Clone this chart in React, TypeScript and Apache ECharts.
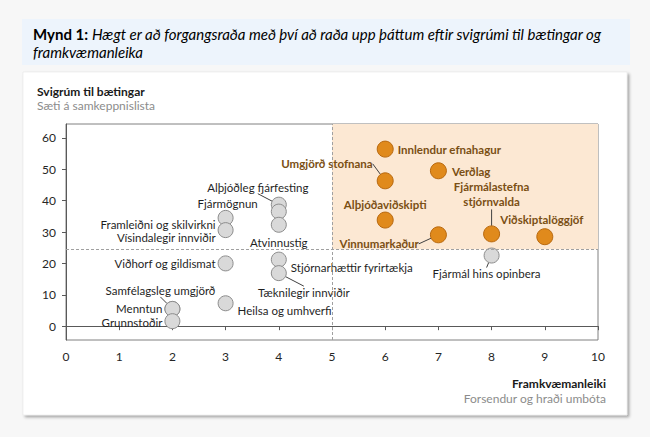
import { useEffect, useRef } from "react";
import * as echarts from "echarts";

// ---- data ----
const xTickMin = 0;
const xTickMax = 10;
const yTickValues = [0, 10, 20, 30, 40, 50, 60];
const Y_MIN = -4.4;
const Y_MAX = 64.4;
const X_SPLIT = 5;
const Y_SPLIT = 24.5;

const priorityNames = [
  "Innlendur efnahagur",
  "Umgjörð stofnana",
  "Verðlag",
  "Alþjóðaviðskipti",
  "Vinnumarkaður",
  "Fjármálastefna\nstjórnvalda",
  "Viðskiptalöggjöf",
];
const priorityX = [6, 6, 7, 6, 7, 8, 9];
const priorityY = [56.4, 46.3, 49.5, 33.8, 29.1, 29.4, 28.5];

const otherNames = [
  "Alþjóðleg fjárfesting",
  "Fjármögnun",
  "Atvinnustig",
  "Framleiðni og skilvirkni",
  "Vísindalegir innviðir",
  "Viðhorf og gildismat",
  "Stjórnarhættir fyrirtækja",
  "Tæknilegir innviðir",
  "Heilsa og umhverfi",
  "Samfélagsleg umgjörð",
  "Menntun",
  "Grunnstoðir",
  "Fjármál hins opinbera",
];
const otherX = [4, 4, 4, 3, 3, 3, 4, 4, 3, 2, 2, 2, 8];
const otherY = [38.7, 36.5, 32.3, 34.5, 30.6, 20, 21.2, 16.9, 7.3, 5.5, 5.5, 1.6, 22.5];

// ---- label placement (style) ----
type Place = { pos: string; dist: number; dx?: number; dy?: number; line?: boolean };
const priorityPlace: Place[] = [
  { pos: "right", dist: 4 },
  { pos: "left", dist: 4, dy: -17, line: true },
  { pos: "right", dist: 5, dy: 1 },
  { pos: "top", dist: 0 },
  { pos: "left", dist: 11, dy: 9, line: true },
  { pos: "top", dist: 4, dy: -12, line: true },
  { pos: "top", dist: 1, dx: -3 },
];
const otherPlace: Place[] = [
  { pos: "top", dist: 3, dx: -21, line: true },
  { pos: "left", dist: 13, dy: -8 },
  { pos: "bottom", dist: 4 },
  { pos: "left", dist: 2, dy: 7 },
  { pos: "left", dist: 2, dy: 7 },
  { pos: "left", dist: 2 },
  { pos: "right", dist: 4, dy: 8 },
  { pos: "bottom", dist: 5, dx: 25, line: true },
  { pos: "right", dist: 4, dy: 7 },
  { pos: "top", dist: 4, dx: -12, line: true },
  { pos: "left", dist: 2 },
  { pos: "left", dist: 2, dy: 1 },
  { pos: "bottom", dist: 4, dx: -5, line: true },
];

const FONT = "Lato";

function buildData(names: string[], xs: number[], ys: number[], places: Place[], lineColor: string) {
  return names.map((n, i) => ({
    name: n,
    value: [xs[i], ys[i]],
    label: { position: places[i].pos, distance: places[i].dist },
    labelLine: {
      show: !!places[i].line,
      length2: 0,
      lineStyle: { color: lineColor, width: 1 },
    },
  }));
}

export default function App() {
  const ref = useRef<HTMLDivElement>(null);
  useEffect(() => {
    if (!ref.current) return;
    const chart = echarts.init(ref.current, undefined, { renderer: "svg" });
    const option: any = {
      animation: false,
      backgroundColor: "#f7f7f7",
      textStyle: { fontFamily: FONT },
      title: {
        left: 28,
        top: 20,
        text:
          "{b|Mynd 1:} {i|Hægt er að forgangsraða með því að raða upp þáttum eftir svigrúmi til bætingar og}\n{i|framkvæmanleika}",
        textStyle: {
          fontFamily: FONT,
          fontSize: 15,
          fontWeight: "normal",
          color: "#000",
          lineHeight: 18,
          rich: {
            b: { fontFamily: FONT, fontSize: 15, fontWeight: "bold", color: "#000", lineHeight: 18 },
            i: { fontFamily: FONT, fontSize: 15, fontStyle: "italic", color: "#000", lineHeight: 18 },
          },
        },
      },
      graphic: [
        {
          type: "rect",
          z: -10,
          shape: { x: 22, y: 19, width: 608, height: 46 },
          style: { fill: "#edf4fc" },
        },
        {
          type: "rect",
          z: -10,
          shape: { x: 23, y: 72, width: 604, height: 343 },
          style: {
            fill: "#ffffff",
            stroke: "#e3e3e3",
            lineWidth: 0.5,
            shadowBlur: 3,
            shadowOffsetX: 2,
            shadowOffsetY: 2,
            shadowColor: "rgba(0,0,0,0.35)",
          },
        },
        {
          type: "text",
          x: 37,
          y: 91,
          style: {
            text: "Svigrúm til bætingar",
            font: `bold 12px ${FONT}`,
            fill: "#1a1a1a",
            verticalAlign: "middle",
          },
        },
        {
          type: "text",
          x: 37,
          y: 105,
          style: {
            text: "Sæti á samkeppnislista",
            font: `12px ${FONT}`,
            fill: "#8c8c8c",
            verticalAlign: "middle",
          },
        },
        {
          type: "text",
          x: 606,
          y: 383,
          style: {
            text: "Framkvæmanleiki",
            font: `bold 12px ${FONT}`,
            fill: "#1a1a1a",
            align: "right",
            verticalAlign: "middle",
          },
        },
        {
          type: "text",
          x: 606,
          y: 398,
          style: {
            text: "Forsendur og hraði umbóta",
            font: `12px ${FONT}`,
            fill: "#8c8c8c",
            align: "right",
            verticalAlign: "middle",
          },
        },
      ],
      grid: {
        left: 66,
        right: 52,
        top: 124,
        bottom: 97,
        show: true,
        borderColor: "#808080",
        borderWidth: 1,
        backgroundColor: "transparent",
      },
      xAxis: {
        type: "value",
        min: xTickMin,
        max: xTickMax,
        interval: 1,
        splitLine: { show: false },
        axisLine: { show: true, lineStyle: { color: "#595959" } },
        axisTick: { show: true, length: 4, lineStyle: { color: "#595959" } },
        axisLabel: { fontFamily: FONT, fontSize: 12, color: "#262626", margin: 10 },
      },
      yAxis: {
        type: "value",
        min: Y_MIN,
        max: Y_MAX,
        splitLine: { show: false },
        axisLine: { show: true, lineStyle: { color: "#595959" } },
        axisTick: {
          show: true,
          length: 4,
          customValues: yTickValues,
          lineStyle: { color: "#595959" },
        },
        axisLabel: {
          fontFamily: FONT,
          fontSize: 12,
          color: "#262626",
          margin: 10,
          customValues: yTickValues,
        },
      },
      series: [
        {
          type: "scatter",
          z: 1,
          data: [],
          silent: true,
          markArea: {
            silent: true,
            itemStyle: { color: "#fce8d3" },
            data: [[{ coord: [X_SPLIT, Y_SPLIT] }, { coord: [xTickMax, Y_MAX] }]],
          },
          markLine: {
            silent: true,
            symbol: "none",
            label: { show: false },
            lineStyle: { color: "#a0a0a0", type: [3, 2], width: 1 },
            data: [{ xAxis: X_SPLIT }, { yAxis: Y_SPLIT }],
          },
        },
        {
          type: "scatter",
          z: 3,
          symbolSize: 15,
          itemStyle: { color: "#d9d9d9", borderColor: "#8c8c8c", borderWidth: 1, opacity: 1 },
          label: {
            show: true,
            formatter: "{b}",
            fontFamily: FONT,
            fontSize: 11.5,
            color: "#1f1f1f",
          },
          labelLayout: (p: any) => {
            const pl = otherPlace[p.dataIndex];
            return { dx: pl.dx || 0, dy: pl.dy || 0 };
          },
          data: buildData(otherNames, otherX, otherY, otherPlace, "#404040"),
        },
        {
          type: "scatter",
          z: 4,
          symbolSize: 16,
          itemStyle: { color: "#e08a1c", borderColor: "#b8680e", borderWidth: 1, opacity: 1 },
          label: {
            show: true,
            formatter: "{b}",
            fontFamily: FONT,
            fontSize: 11.5,
            fontWeight: "bold",
            color: "#7a4f14",
            lineHeight: 15,
          },
          labelLayout: (p: any) => {
            const pl = priorityPlace[p.dataIndex];
            return { dx: pl.dx || 0, dy: pl.dy || 0 };
          },
          data: buildData(priorityNames, priorityX, priorityY, priorityPlace, "#404040"),
        },
      ],
    };
    chart.setOption(option);
    return () => chart.dispose();
  }, []);
  return (
    <div
      ref={ref}
      style={{ position: "fixed", left: 0, top: 0, width: 650, height: 437 }}
    />
  );
}
